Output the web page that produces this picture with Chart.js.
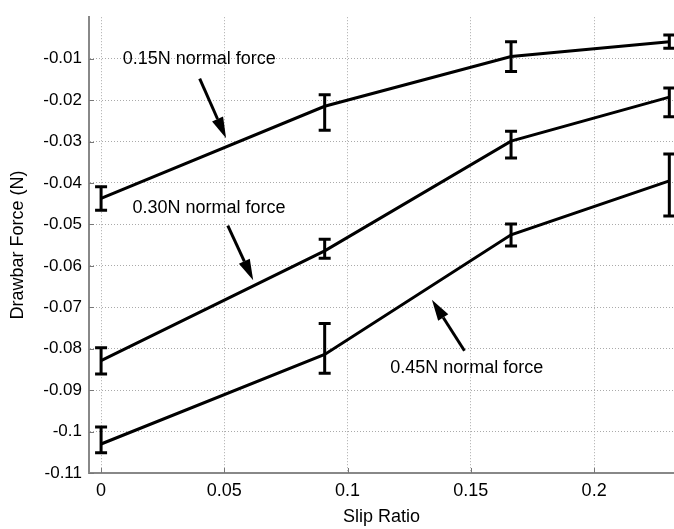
<!DOCTYPE html>
<html>
<head>
  <meta charset="UTF-8">
  <title>Drawbar Force vs Slip Ratio</title>
  <script src="https://cdn.jsdelivr.net/npm/chart.js"></script>
  <style>
    body { margin: 0; background: #fff; }
    canvas { display: block; }
  </style>
</head>
<body>
  <canvas id="chart" width="674" height="529"></canvas>

  <script>
    // slip ratios (x)
    const slip = [0, 0.0907, 0.1663, 0.2305];

    // drawbar force for each normal load, with error bar bounds
    const force15 = [-0.0437, -0.0215, -0.0095, -0.0059];
    const hi15    = [-0.0409, -0.0187, -0.0059, -0.0043];
    const lo15    = [-0.0466, -0.0273, -0.0131, -0.0075];

    const force30 = [-0.0829, -0.0564, -0.0299, -0.0193];
    const hi30    = [-0.0798, -0.0536, -0.0275, -0.0171];
    const lo30    = [-0.0861, -0.0582, -0.0340, -0.0240];

    const force45 = [-0.1030, -0.0814, -0.0525, -0.0395];
    const hi45    = [-0.0989, -0.0739, -0.0499, -0.0330];
    const lo45    = [-0.1051, -0.0859, -0.0552, -0.0480];

    const xTicks = [0, 0.05, 0.1, 0.15, 0.2];
    const yTicks = [-0.11, -0.1, -0.09, -0.08, -0.07, -0.06, -0.05, -0.04, -0.03, -0.02, -0.01];

    // annotation text + arrow (data coords)
    const notes = [
      { text: "0.15N normal force", at: [0.0398, -0.0102], from: [0.0400, -0.0148], to: [0.0507, -0.0292] },
      { text: "0.30N normal force", at: [0.0438, -0.0460], from: [0.0514, -0.0503], to: [0.0617, -0.0635] },
      { text: "0.45N normal force", at: [0.1483, -0.0846], from: [0.1474, -0.0805], to: [0.1342, -0.0682] }
    ];

    const FONT = "'Liberation Sans', Arial, sans-serif";

    const series = [
      { y: force15, hi: hi15, lo: lo15 },
      { y: force30, hi: hi30, lo: lo30 },
      { y: force45, hi: hi45, lo: lo45 }
    ];

    const pts = arr => slip.map((x, i) => ({ x: x, y: arr[i] }));

    const extras = {
      id: "extras",
      beforeDatasetsDraw(chart) {
        // inward tick marks
        const { ctx, chartArea: a, scales: { x, y } } = chart;
        ctx.save();
        ctx.strokeStyle = "#777";
        ctx.lineWidth = 1;
        ctx.beginPath();
        xTicks.forEach(v => {
          const px = Math.round(x.getPixelForValue(v)) + 0.5;
          ctx.moveTo(px, a.bottom);
          ctx.lineTo(px, a.bottom - 5);
        });
        yTicks.forEach(v => {
          const py = Math.round(y.getPixelForValue(v)) + 0.5;
          ctx.moveTo(a.left, py);
          ctx.lineTo(a.left + 5, py);
        });
        ctx.stroke();
        ctx.restore();
      },
      afterDatasetsDraw(chart) {
        const { ctx, scales: { x, y } } = chart;
        ctx.save();
        ctx.strokeStyle = "#000";
        ctx.fillStyle = "#000";
        ctx.lineWidth = 3;
        ctx.lineCap = "butt";

        // error bars
        series.forEach(s => {
          slip.forEach((sx, i) => {
            const px = x.getPixelForValue(sx);
            const top = y.getPixelForValue(s.hi[i]);
            const bot = y.getPixelForValue(s.lo[i]);
            ctx.beginPath();
            ctx.moveTo(px, top); ctx.lineTo(px, bot);
            ctx.moveTo(px - 6, top); ctx.lineTo(px + 6, top);
            ctx.moveTo(px - 6, bot); ctx.lineTo(px + 6, bot);
            ctx.stroke();
          });
        });

        // annotations
        ctx.font = "18px " + FONT;
        ctx.textAlign = "center";
        ctx.textBaseline = "middle";
        notes.forEach(n => {
          ctx.fillText(n.text, x.getPixelForValue(n.at[0]), y.getPixelForValue(n.at[1]));
          const x0 = x.getPixelForValue(n.from[0]), y0 = y.getPixelForValue(n.from[1]);
          const x1 = x.getPixelForValue(n.to[0]), y1 = y.getPixelForValue(n.to[1]);
          const ang = Math.atan2(y1 - y0, x1 - x0);
          const len = 21, w = 6;
          const bx = x1 - len * Math.cos(ang), by = y1 - len * Math.sin(ang);
          ctx.beginPath();
          ctx.moveTo(x0, y0); ctx.lineTo(bx, by);
          ctx.stroke();
          ctx.beginPath();
          ctx.moveTo(x1, y1);
          ctx.lineTo(bx + w * Math.sin(ang), by - w * Math.cos(ang));
          ctx.lineTo(bx - w * Math.sin(ang), by + w * Math.cos(ang));
          ctx.closePath();
          ctx.fill();
        });
        ctx.restore();
      }
    };

    const lineStyle = {
      borderColor: "#000",
      borderWidth: 3,
      pointRadius: 0,
      fill: false,
      tension: 0
    };

    new Chart(document.getElementById("chart"), {
      type: "line",
      data: {
        datasets: [
          { label: "0.15N", data: pts(force15), ...lineStyle },
          { label: "0.30N", data: pts(force30), ...lineStyle },
          { label: "0.45N", data: pts(force45), ...lineStyle }
        ]
      },
      options: {
        responsive: false,
        animation: false,
        layout: { padding: { top: 7, right: 0, bottom: 0, left: 0 } },
        plugins: {
          legend: { display: false },
          tooltip: { enabled: false }
        },
        scales: {
          x: {
            type: "linear",
            min: -0.0049,
            max: 0.2324,
            afterBuildTicks: s => { s.ticks = xTicks.map(v => ({ value: v })); },
            afterFit: s => { s.height = 56; },
            ticks: {
              padding: 7,
              color: "#000",
              font: { family: FONT, size: 18 },
              maxRotation: 0,
              callback: v => String(v)
            },
            grid: { color: "#aaa", lineWidth: 1, drawTicks: false },
            border: { color: "#888", width: 2, dash: [1, 2] },
            title: {
              display: true,
              text: "Slip Ratio",
              color: "#000",
              font: { family: FONT, size: 18 },
              padding: { top: 0, bottom: 1.5 }
            }
          },
          y: {
            type: "linear",
            min: -0.11,
            max: 0,
            afterBuildTicks: s => { s.ticks = yTicks.map(v => ({ value: v })); },
            afterFit: s => { s.width = 89; },
            ticks: {
              padding: 7,
              color: "#000",
              font: { family: FONT, size: 17 },
              callback: v => String(Math.round(v * 100) / 100)
            },
            grid: { color: "#aaa", lineWidth: 1, drawTicks: false },
            border: { color: "#888", width: 2, dash: [1, 2] },
            title: {
              display: true,
              text: "Drawbar Force (N)",
              color: "#000",
              font: { family: FONT, size: 18 },
              padding: { top: 7, bottom: 0 }
            }
          }
        }
      },
      plugins: [extras]
    });
  </script>
</body>
</html>
